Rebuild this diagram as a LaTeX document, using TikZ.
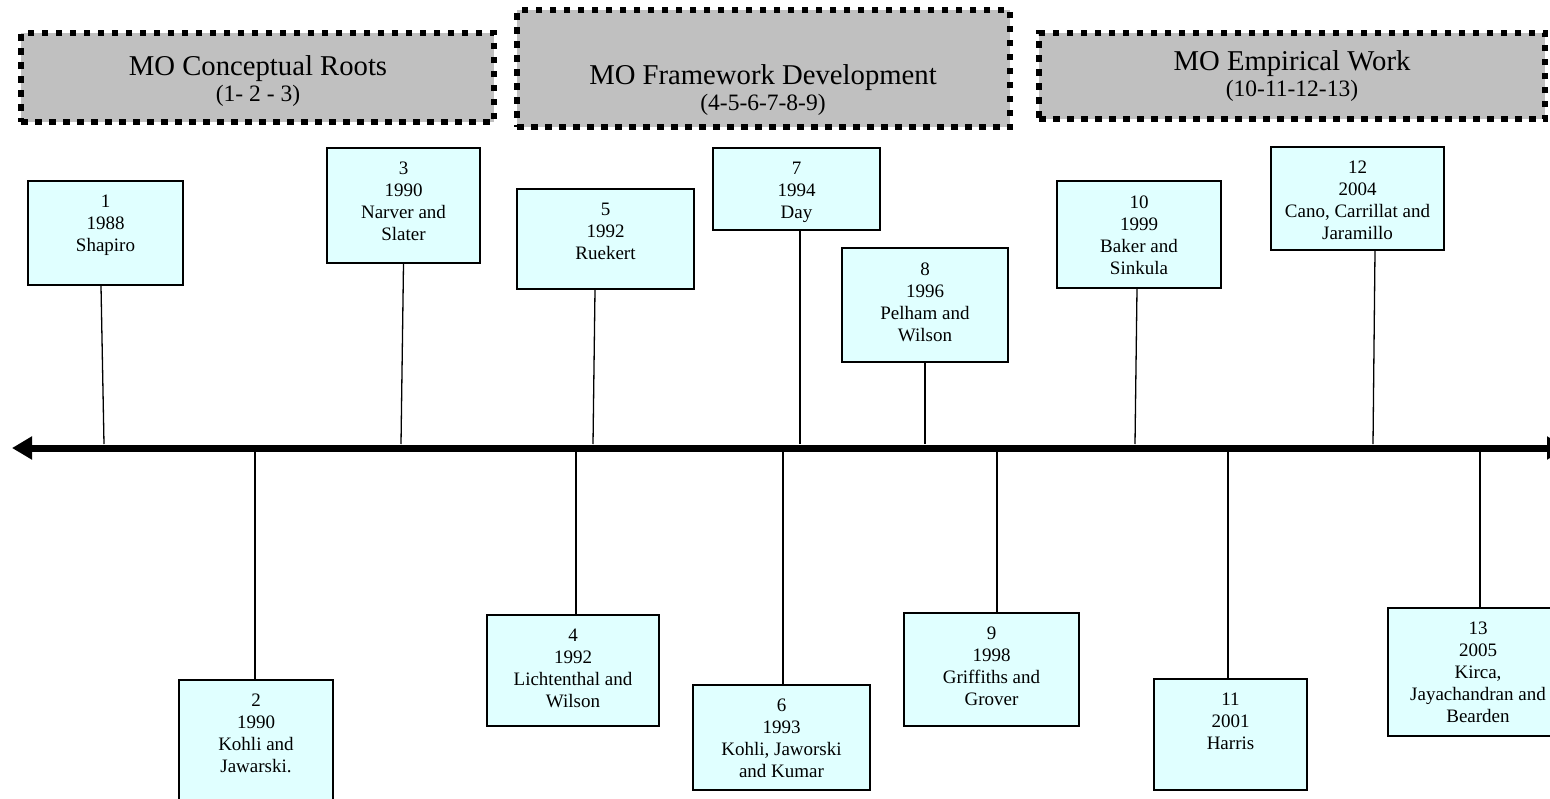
\documentclass[tikz,border=0pt]{standalone}
\usepackage{fontspec}
\setmainfont{Liberation Serif}
\usetikzlibrary{arrows.meta,fit}
\definecolor{hdrgray}{HTML}{C0C0C0}
\definecolor{boxcyan}{HTML}{E0FFFF}
\begin{document}
\begin{tikzpicture}[x=1pt,y=-1pt,
 evbox/.style={draw=black,fill=boxcyan,line width=1.6pt,inner sep=0pt},
 evtext/.style={align=center,inner sep=0pt,font=\fontsize{19}{22}\selectfont,anchor=north},
 hdrbox/.style={draw=black,fill=hdrgray,line width=6.5pt,dash pattern=on 6.5pt off 7.5pt,inner sep=0pt},
 hdrtitle/.style={font=\fontsize{28.7}{33}\selectfont,anchor=base,inner sep=0pt},
 hdrsub/.style={font=\fontsize{23.5}{27}\selectfont,anchor=base,inner sep=0pt},
 stem/.style={draw=black,line width=1.3pt},
 axisline/.style={line width=7pt,{Triangle[length=20pt,width=22pt]}-{Triangle[length=20pt,width=22pt]}}]
\useasboundingbox (0,0) rectangle (1550,798);

% headers
\node[hdrbox,fit={(21,33)(494,122)}] (h1) {};
\node[hdrtitle] (h1a) at (258,75) {MO Conceptual Roots};
\node[hdrsub] (h1b) at (258,101) {(1- 2 - 3)};
\node[hdrbox,fit={(517,10)(1010,127)}] (h2) {};
\node[hdrtitle] (h2a) at (763,84) {MO Framework Development};
\node[hdrsub] (h2b) at (763,110) {(4-5-6-7-8-9)};
\node[hdrbox,fit={(1039,33)(1545,119)}] (h3) {};
\node[hdrtitle] (h3a) at (1292,70) {MO Empirical Work};
\node[hdrsub] (h3b) at (1292,96) {(10-11-12-13)};

% axis
\coordinate (axL) at (12,448);
\coordinate (axR) at (1567,448);
\draw[axisline] (axR) -- (axL);

% top boxes
\node[evbox,fit={(28,181)(183,285)}] (b1) {};
\node[evtext] (t1) at ([yshift=-15pt]b1.north) {1\\1988\\Shapiro};
\node[evbox,fit={(327,148)(480,263)}] (b3) {};
\node[evtext] (t3) at ([yshift=-15pt]b3.north) {3\\1990\\Narver and\\Slater};
\node[evbox,fit={(517,189)(694,289)}] (b5) {};
\node[evtext] (t5) at ([yshift=-15pt]b5.north) {5\\1992\\Ruekert};
\node[evbox,fit={(713,148)(880,230)}] (b7) {};
\node[evtext] (t7) at ([yshift=-15pt]b7.north) {7\\1994\\Day};
\node[evbox,fit={(842,248)(1008,362)}] (b8) {};
\node[evtext] (t8) at ([yshift=-15pt]b8.north) {8\\1996\\Pelham and\\Wilson};
\node[evbox,fit={(1057,181)(1221,288)}] (b10) {};
\node[evtext] (t10) at ([yshift=-15pt]b10.north) {10\\1999\\Baker and\\Sinkula};
\node[evbox,fit={(1271,147)(1444,250)}] (b12) {};
\node[evtext] (t12) at ([yshift=-15pt]b12.north) {12\\2004\\Cano, Carrillat and\\Jaramillo};

% bottom boxes
\node[evbox,fit={(179,680)(333,815)}] (b2) {};
\node[evtext] (t2) at ([yshift=-15pt]b2.north) {2\\1990\\Kohli and\\Jawarski.};
\node[evbox,fit={(487,615)(659,726)}] (b4) {};
\node[evtext] (t4) at ([yshift=-15pt]b4.north) {4\\1992\\Lichtenthal and\\Wilson};
\node[evbox,fit={(693,685)(870,790)}] (b6) {};
\node[evtext] (t6) at ([yshift=-15pt]b6.north) {6\\1993\\Kohli, Jaworski\\and Kumar};
\node[evbox,fit={(904,613)(1079,726)}] (b9) {};
\node[evtext] (t9) at ([yshift=-15pt]b9.north) {9\\1998\\Griffiths and\\Grover};
\node[evbox,fit={(1154,679)(1307,790)}] (b11) {};
\node[evtext] (t11) at ([yshift=-15pt]b11.north) {11\\2001\\Harris};
\node[evbox,fit={(1388,608)(1568,736)}] (b13) {};
\node[evtext] (t13) at ([yshift=-15pt]b13.north) {13\\2005\\Kirca,\\Jayachandran and\\Bearden};

% axis anchor points
\coordinate (a1) at (104,444);
\coordinate (a3) at (401,444);
\coordinate (a5) at (593,444);
\coordinate (a7) at (800,444);
\coordinate (a8) at (925,444);
\coordinate (a10) at (1135,444);
\coordinate (a12) at (1373,444);
\coordinate (a2) at (255,452);
\coordinate (a4) at (576,452);
\coordinate (a6) at (783,452);
\coordinate (a9) at (997,452);
\coordinate (a11) at (1228,452);
\coordinate (a13) at (1480,452);

% stems
\draw[stem] ([xshift=-4.5pt]b1.south) -- (a1);
\draw[stem] (b3.south) -- (a3);
\draw[stem] ([xshift=-10.5pt]b5.south) -- (a5);
\draw[stem] ([xshift=3.5pt]b7.south) -- (a7);
\draw[stem] (b8.south) -- (a8);
\draw[stem] ([xshift=-2pt]b10.south) -- (a10);
\draw[stem] ([xshift=17.5pt]b12.south) -- (a12);
\draw[stem] ([xshift=-1pt]b2.north) -- (a2);
\draw[stem] ([xshift=3pt]b4.north) -- (a4);
\draw[stem] ([xshift=1.5pt]b6.north) -- (a6);
\draw[stem] ([xshift=5.5pt]b9.north) -- (a9);
\draw[stem] ([xshift=-2.5pt]b11.north) -- (a11);
\draw[stem] ([xshift=2pt]b13.north) -- (a13);
\end{tikzpicture}
\end{document}
